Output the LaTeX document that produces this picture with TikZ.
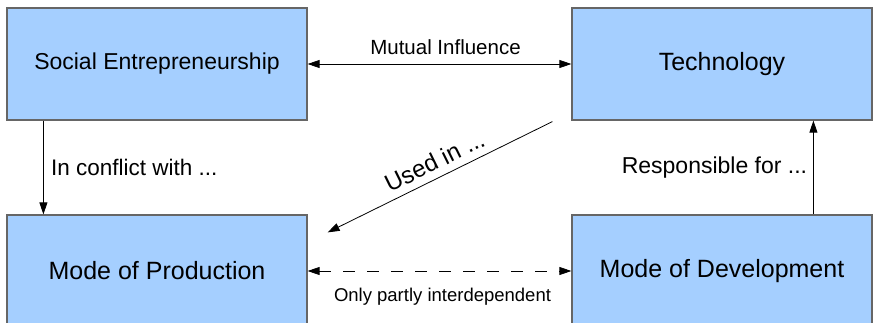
\documentclass[tikz,border=0pt]{standalone}
\usepackage{fontspec}
\setmainfont{Liberation Sans}
\usetikzlibrary{arrows.meta}
\definecolor{boxblue}{HTML}{A5CFFF}
\tikzset{
  block/.style={draw=black!60, line width=1.2pt, fill=boxblue, minimum width=300pt, minimum height=112pt, inner sep=0pt},
  link/.style={line width=0.8pt, -{Triangle[length=12pt,width=8pt]}},
  twolink/.style={line width=0.8pt, {Triangle[length=12pt,width=8pt]}-{Triangle[length=12pt,width=8pt]}},
}
\newcommand{\fsz}[1]{\fontsize{#1}{#1}\selectfont}
\begin{document}
\begin{tikzpicture}[x=1pt,y=1pt]
        \useasboundingbox (0,0) rectangle (877,322);
        % blocchi
        \node[block] (social) at (157,258) {\fsz{23}Social Entrepreneurship};
        \node[block] (tech) at (722,258) {\fsz{25}Technology};
        \node[block] (prod) at (157,51) {\fsz{25}Mode of Production};
        \node[block] (devel) at (722,51) {\fsz{25}Mode of Development};

        % frecce
        \draw[twolink] (social.east) -- node[above=6pt,xshift=6pt]{\fsz{20.5}Mutual Influence} (tech.west);
        \draw[link] ([xshift=37pt]social.south west) -- node[right=4pt]{\fsz{22.5}In conflict with ...} ([xshift=37pt]prod.north west);
        \coordinate (usedA) at ([xshift=-19pt,yshift=-1pt]tech.south west);
        \coordinate (usedB) at ([xshift=20pt,yshift=-18pt]prod.north east);
        \draw[link] (usedA) -- node[sloped,above=4pt,xshift=2pt]{\fsz{24}Used in ...} (usedB);
        \draw[link] ([xshift=242pt]devel.north west) -- node[left=2.5pt]{\fsz{23}Responsible for ...} ([xshift=242pt]tech.south west);
        \draw[twolink, dash pattern=on 12pt off 12pt] (prod.east) -- node[below=13pt,xshift=3pt]{\fsz{18.5}Only partly interdependent} (devel.west);
      \end{tikzpicture}
\end{document}
